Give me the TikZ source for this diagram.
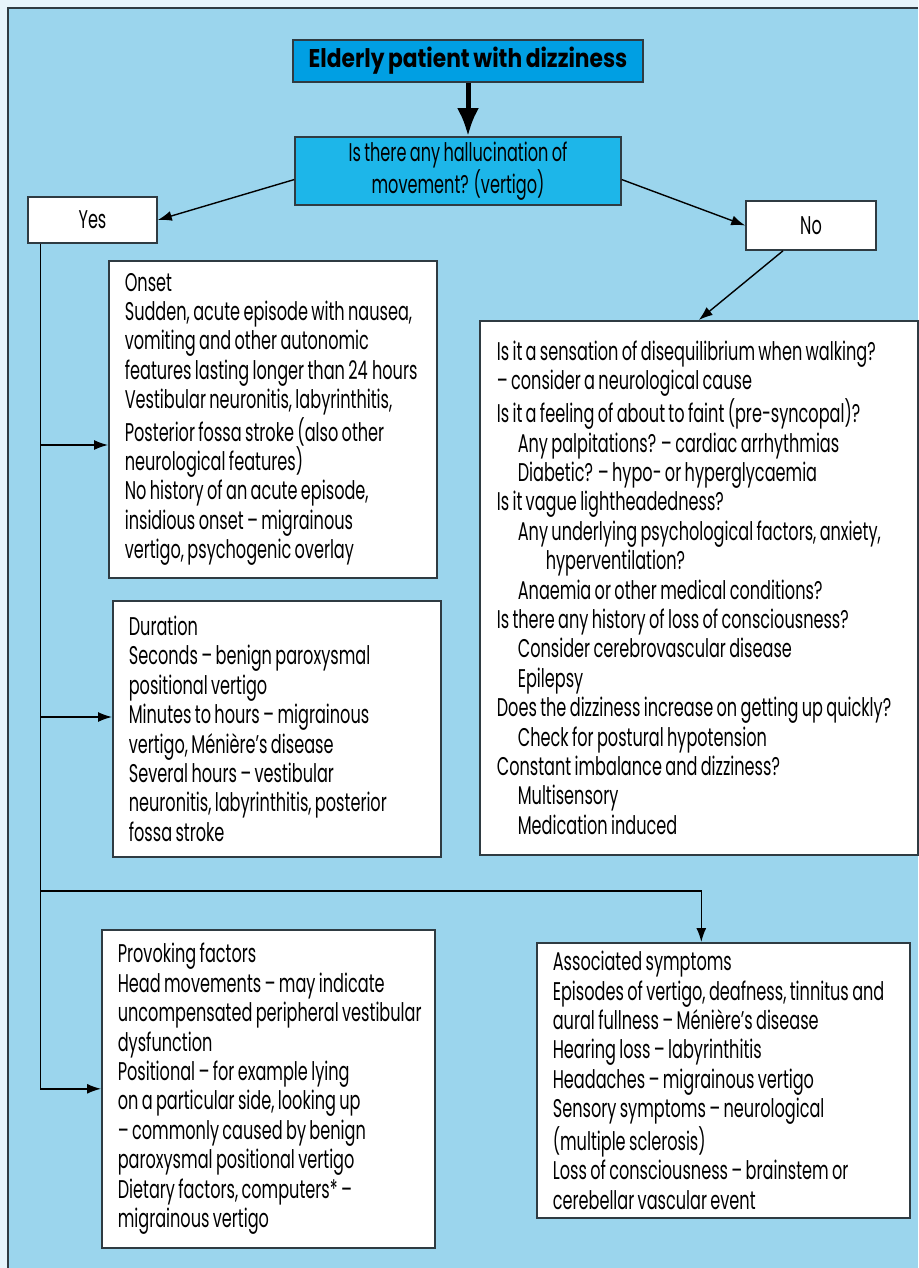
\documentclass[tikz,border=0pt]{standalone}
\usepackage{fontspec}
\setmainfont[FakeStretch=0.63, WordSpace=0.78, BoldFeatures={FakeStretch=0.85}]{Poppins}
\usetikzlibrary{arrows.meta}
\definecolor{pagebg}{HTML}{E6F4FB}
\definecolor{panel}{HTML}{9BD5ED}
\definecolor{frame}{HTML}{2F3B42}
\definecolor{titlefill}{HTML}{009FE3}
\definecolor{askfill}{HTML}{1DB6E9}
\tikzset{
  baseline = (current bounding box.center),
}

\begin{document}
\begin{tikzpicture}[
    x=0.5pt, y=-0.5pt,
    every node/.style={font=\fontsize{12.8}{14.7}\selectfont},
    box/.style={draw=frame, line width=0.8pt, fill=white, inner xsep=7pt, inner ysep=0pt, align=flush left, anchor=north west},
    ans/.style={draw=frame, line width=0.8pt, fill=white, inner sep=0pt, align=center},
    trans/.style={line width=0.7pt, ->, >={Latex[length=7pt,width=5pt]}}
    ]
    \useasboundingbox (0,0) rectangle (918,1268);
    \fill[pagebg] (0,0) rectangle (918,1268);
    \fill[panel] (8,8) rectangle (918,1268);
    \draw[frame, line width=1.3pt] (8,1268) -- (8,8) -- (918,8);

    \node[ans, fill=titlefill, minimum width=175pt, minimum height=21pt, font=\fontsize{12.8}{14.7}\selectfont\bfseries] (title) at (468,61) {Elderly patient with dizziness};
    \node[ans, fill=askfill, minimum width=163pt, minimum height=34pt] (quest) at (458,171) {Is there any hallucination of\\movement? (vertigo)};
    \node[ans, minimum width=64.5pt, minimum height=23pt] (yes) at (92.5,220) {Yes};
    \node[ans, minimum width=65pt, minimum height=24.5pt] (no) at (811,225.5) {No};

    \node[box, text width=150pt, minimum height=158.5pt] (onset) at (108,260) {\hspace*{1pt}Onset\\
      \hspace*{1pt}Sudden, acute episode with nausea,\\
      \hspace*{1pt}vomiting and other autonomic\\
      \hspace*{1pt}features lasting longer than 24\,hours\\
      \hspace*{1pt}Vestibular neuronitis, labyrinthitis,\\
      \hspace*{1pt}Posterior fossa stroke (also other\\
      \hspace*{1pt}neurological features)\\
      \hspace*{1pt}No history of an acute episode,\\
      \hspace*{1pt}insidious onset – migrainous\\
      \hspace*{1pt}vertigo, psychogenic overlay};
    \node[box, text width=150pt, minimum height=128pt] (dur) at (112,600) {\hspace*{1pt}Duration\\
      \hspace*{1pt}Seconds – benign paroxysmal\\
      \hspace*{1pt}positional vertigo\\
      \hspace*{1pt}Minutes to hours – migrainous\\
      \hspace*{1pt}vertigo, Ménière’s disease\\
      \hspace*{1pt}Several hours – vestibular\\
      \hspace*{1pt}neuronitis, labyrinthitis, posterior\\
      \hspace*{1pt}fossa stroke};
    \node[box, text width=152.5pt, minimum height=159pt] (prov) at (101,929) {\hspace*{1pt}Provoking factors\\
      \hspace*{1pt}Head movements – may indicate\\
      \hspace*{1pt}\mbox{uncompensated peripheral vestibular}\\
      \hspace*{1pt}dysfunction\\
      \hspace*{1pt}Positional – for example lying\\
      \hspace*{1pt}on a particular side, looking up\\
      \hspace*{1pt}– commonly caused by benign\\
      \hspace*{1pt}paroxysmal positional vertigo\\
      \hspace*{1pt}Dietary factors, computers* –\\
      \hspace*{1pt}migrainous vertigo};
    \node[box, text width=172.5pt, minimum height=137.5pt] (assoc) at (536,942) {\hspace*{1pt}Associated symptoms\\
      \hspace*{1pt}Episodes of vertigo, deafness, tinnitus and\\
      \hspace*{1pt}aural fullness – Ménière’s disease\\
      \hspace*{1pt}Hearing loss – labyrinthitis\\
      \hspace*{1pt}Headaches – migrainous vertigo\\
      \hspace*{1pt}Sensory symptoms – neurological\\
      \hspace*{1pt}(multiple sclerosis)\\
      \hspace*{1pt}Loss of consciousness – brainstem or\\
      \hspace*{1pt}cerebellar vascular event};
    \node[box, text width=205pt, minimum height=267pt] (other) at (479,320) {\hspace*{1.5pt}Is it a sensation of disequilibrium when walking?\\
      \hspace*{1.5pt}– consider a neurological cause\\
      \hspace*{1.5pt}Is it a feeling of about to faint (pre-syncopal)?\\
      \hspace*{12pt}Any palpitations? – cardiac arrhythmias\\
      \hspace*{12pt}Diabetic? – hypo- or hyperglycaemia\\
      \hspace*{1.5pt}Is it vague lightheadedness?\\
      \hspace*{12pt}Any underlying psychological factors, anxiety,\\
      \hspace*{26pt}hyperventilation?\\
      \hspace*{12pt}Anaemia or other medical conditions?\\
      \hspace*{1.5pt}Is there any history of loss of consciousness?\\
      \hspace*{12pt}Consider cerebrovascular disease\\
      \hspace*{12pt}Epilepsy\\
      \hspace*{1.5pt}Does the dizziness increase on getting up quickly?\\
      \hspace*{12pt}Check for postural hypotension\\
      \hspace*{1.5pt}Constant imbalance and dizziness?\\
      \hspace*{12pt}Multisensory\\
      \hspace*{12pt}Medication induced};

    % branch points on the yes line
    \coordinate (s1) at (41,445);
    \coordinate (s2) at (41,717);
    \coordinate (s3) at (41,891);

    \draw[line width=2.5pt, -{Latex[length=14pt,width=11pt]}] (title.south) -- (title.south |- quest.north);
    \draw[trans] (quest.183) -- (yes.east);
    \draw[trans] (quest.-3) -- (no.west);
    \draw[trans] ([xshift=-14pt]no.south) -- (other.north);
    \draw[trans] ([xshift=6.5pt]yes.south west) |- (prov.west);
    \draw[trans] (s1) -- (s1 -| onset.west);
    \draw[trans] (s2) -- (s2 -| dur.west);
    \draw[trans] (s3) -| ([xshift=-11pt]assoc.north);
  \end{tikzpicture}
\end{document}
